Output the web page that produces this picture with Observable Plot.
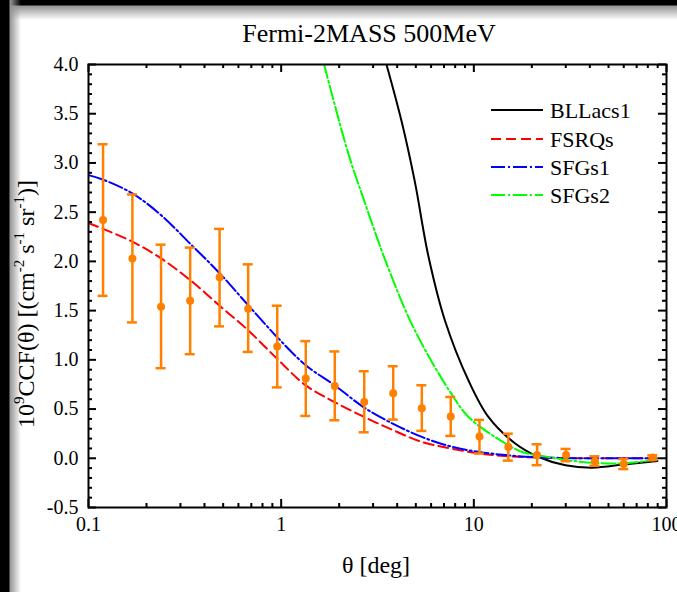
<!DOCTYPE html>
<html><head><meta charset="utf-8">
<script src="https://cdn.jsdelivr.net/npm/d3@7"></script>
<script src="https://cdn.jsdelivr.net/npm/@observablehq/plot@0.6"></script>
<style>
html,body{margin:0;padding:0;background:#fff;}
body{width:677px;height:592px;overflow:hidden;position:relative;}
#bg{position:absolute;left:0;top:0;width:677px;height:592px;background-repeat:no-repeat;background-image:
 linear-gradient(to right,#000 0,#000 9px,rgb(150,150,150) 10px,rgba(255,255,255,0) 21px),
 linear-gradient(to bottom,#000 0,#000 5px,rgb(150,150,150) 6px,rgba(255,255,255,0) 20px);}
#chart{position:absolute;left:0;top:0;width:677px;height:592px;}
#chart svg{display:block;background:transparent;}
</style></head><body><div id="bg"></div><div id="chart"></div><script>
// ---- data ----
const theta = [0.119,0.169,0.238,0.337,0.479,0.674,0.954,1.342,1.898,2.698,3.815,5.37,7.59,10.7,15.1,21.3,30.1,42.5,60.0,84.9];
const ccf   = [2.42,2.03,1.54,1.60,1.84,1.52,1.135,0.81,0.735,0.572,0.66,0.508,0.424,0.22,0.115,0.034,0.034,-0.03,-0.058,0.007];
const errHi = [3.19,2.68,2.17,2.14,2.33,1.97,1.55,1.19,1.085,0.884,0.935,0.742,0.623,0.39,0.25,0.142,0.095,0.02,-0.007,0.03];
const errLo = [1.65,1.38,0.915,1.057,1.34,1.08,0.72,0.43,0.386,0.264,0.393,0.278,0.227,0.048,-0.024,-0.07,-0.03,-0.075,-0.11,-0.017];

const bllX = [3.52,4.22,4.94,5.8,7.08,9.38,11.9,16.4,21.7,29.9,41,61.4,89.7];
const bllY = [4.0,3.42,2.81,2.06,1.40,0.79,0.42,0.15,0.013,-0.071,-0.095,-0.061,-0.027];
const fsrqX = [0.1,0.119,0.169,0.238,0.337,0.479,0.674,0.954,1.342,1.898,2.698,3.815,5.37,7.59,10.7,15.1,21.3,30.1,42.5,60.0,89];
const fsrqY = [2.39,2.33,2.2,2.03,1.81,1.55,1.30,1.01,0.74,0.57,0.42,0.285,0.166,0.10,0.048,0.02,0.008,0.002,0,0,0];
const sfg1X = fsrqX;
const sfg1Y = [2.876,2.83,2.69,2.47,2.18,1.88,1.555,1.23,0.945,0.74,0.515,0.35,0.217,0.12,0.064,0.03,0.01,0.003,0,0,0];
const sfg2X = [1.67,2.22,2.67,3.6,4.94,7.59,9.38,12.9,17.8,21.7,30.7,43.4,61.4,89];
const sfg2Y = [4.0,3.11,2.64,1.93,1.30,0.664,0.42,0.216,0.064,0.03,-0.02,-0.048,-0.05,-0.013];

const seriesNames = ["BLLacs1","FSRQs","SFGs1","SFGs2"];
const seriesColors = ["#000000","#ff0000","#0000ff","#00ff00"];
const seriesDash = [null,"10,5","14,3,2,3","14,3,2,3"];

const xMajor = [0.1,1,10,100];
const xMinor = [0.2,0.3,0.4,0.5,0.6,0.7,0.8,0.9,2,3,4,5,6,7,8,9,20,30,40,50,60,70,80,90];
const yMajor = [-0.5,0,0.5,1,1.5,2,2.5,3,3.5,4];
const yMinor = [-0.4,-0.3,-0.2,-0.1,0.1,0.2,0.3,0.4,0.6,0.7,0.8,0.9,1.1,1.2,1.3,1.4,1.6,1.7,1.8,1.9,2.1,2.2,2.3,2.4,2.6,2.7,2.8,2.9,3.1,3.2,3.3,3.4,3.6,3.7,3.8,3.9];

// ---- layout ----
const W = 677, H = 592, mL = 88, mR = 11, mT = 64, mB = 85;
const pw = W - mL - mR, ph = H - mT - mB;
const font = "Liberation Serif, Times New Roman, DejaVu Serif, serif";
const orange = "#ff8000";

const points = theta.map((t,i) => ({t, v: ccf[i], lo: errLo[i], hi: errHi[i]}));
const curveData = [
  bllX.map((x,i) => ({x, y: bllY[i]})),
  fsrqX.map((x,i) => ({x, y: fsrqY[i]})),
  sfg1X.map((x,i) => ({x, y: sfg1Y[i]})),
  sfg2X.map((x,i) => ({x, y: sfg2Y[i]}))
];

const tickMarks = (vals, len, side) => {
  const o = {stroke: "black", strokeWidth: 2};
  if (side === "left") return Plot.ruleY(vals, {...o, y: d => d, insetRight: pw - len});
  if (side === "right") return Plot.ruleY(vals, {...o, y: d => d, insetLeft: pw - len});
  if (side === "bottom") return Plot.ruleX(vals, {...o, x: d => d, insetTop: ph - len});
  return Plot.ruleX(vals, {...o, x: d => d, insetBottom: ph - len});
};

const chart = Plot.plot({
  width: W, height: H,
  marginLeft: mL, marginRight: mR, marginTop: mT, marginBottom: mB,
  style: {background: "transparent", fontFamily: font, fontSize: "20px", color: "black", overflow: "visible"},
  x: {type: "log", domain: [0.1, 100], ticks: xMajor, tickSize: 0, tickPadding: 9, tickFormat: d => String(d), label: null},
  y: {domain: [-0.5, 4], ticks: yMajor, tickSize: 0, tickPadding: 10, tickFormat: d => d.toFixed(1), label: null},
  marks: [
    ...curveData.map((data, i) => Plot.line(data, {
      x: "x", y: "y", stroke: seriesColors[i], strokeWidth: 2,
      strokeDasharray: seriesDash[i], curve: "catmull-rom", clip: true
    })),
    Plot.ruleX(points, {x: "t", y1: "lo", y2: "hi", stroke: orange, strokeWidth: 2.5}),
    Plot.ruleY(points, {y: "hi", x1: "t", x2: "t", insetLeft: -5, insetRight: -5, stroke: orange, strokeWidth: 2.5}),
    Plot.ruleY(points, {y: "lo", x1: "t", x2: "t", insetLeft: -5, insetRight: -5, stroke: orange, strokeWidth: 2.5}),
    Plot.dot(points, {x: "t", y: "v", r: 4, fill: orange}),
    tickMarks(yMajor, 8, "left"), tickMarks(yMinor, 4, "left"),
    tickMarks(yMajor, 8, "right"), tickMarks(yMinor, 4, "right"),
    tickMarks(xMajor, 8, "bottom"), tickMarks(xMinor, 4, "bottom"),
    tickMarks(xMajor, 8, "top"), tickMarks(xMinor, 4, "top"),
    Plot.frame({stroke: "black", strokeWidth: 2})
  ]
});
document.getElementById("chart").appendChild(chart);

// ---- texts & legend ----
const svg = d3.select(chart);
svg.append("text").attr("x", 369).attr("y", 42).attr("text-anchor", "middle")
  .attr("font-family", font).attr("font-size", 26).attr("fill", "black").text("Fermi-2MASS 500MeV");
svg.append("text").attr("x", 376).attr("y", 573).attr("text-anchor", "middle")
  .attr("font-family", font).attr("font-size", 24).attr("fill", "black").text("θ [deg]");

const yl = svg.append("text").attr("transform", "translate(34,304) rotate(-90)")
  .attr("text-anchor", "middle").attr("font-family", font).attr("font-size", 24).attr("fill", "black");
const parts = [["10",0],["9",1],["CCF(θ) [(cm",0],["-2",1],[" s",0],["-1",1],[" sr",0],["-1",1],[")]",0]];
let up = false;
for (const [txt, sup] of parts) {
  const t = yl.append("tspan").text(txt);
  if (sup && !up) { t.attr("dy", -10).attr("font-size", 15); up = true; }
  else if (sup) { t.attr("font-size", 15); }
  else if (!sup && up) { t.attr("dy", 10); up = false; }
}

const legY = [110,139,167,195];
seriesNames.forEach((name, i) => {
  svg.append("line").attr("x1", 491).attr("x2", 543).attr("y1", legY[i]).attr("y2", legY[i])
    .attr("stroke", seriesColors[i]).attr("stroke-width", 2)
    .attr("stroke-dasharray", seriesDash[i]);
  svg.append("text").attr("x", 550).attr("y", legY[i] + 7.5).attr("text-anchor", "start")
    .attr("font-family", font).attr("font-size", 22).attr("fill", "black").text(name);
});
</script></body></html>
